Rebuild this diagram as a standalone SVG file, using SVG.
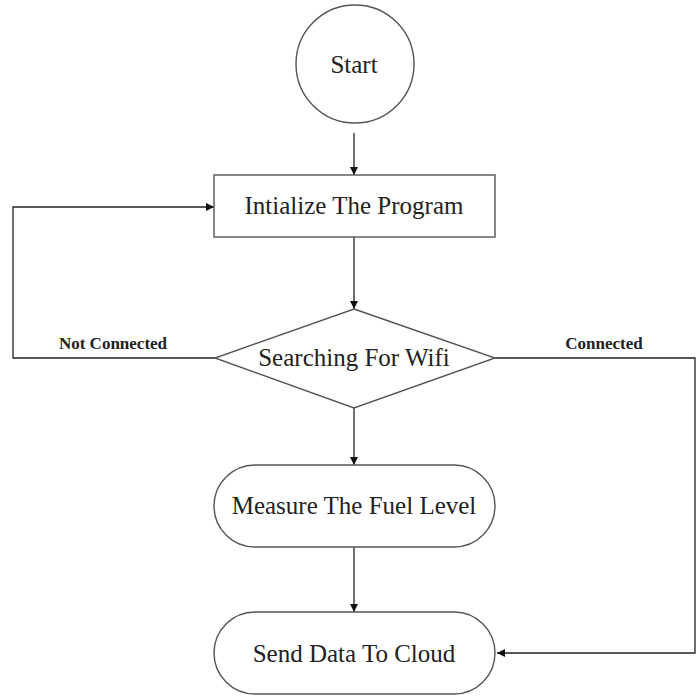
<svg xmlns="http://www.w3.org/2000/svg" width="699" height="696" viewBox="0 0 699 696">
<style>
.shape{fill:#fff;stroke:#555;stroke-width:1.4}
.lbl{font-family:"Liberation Serif","Times New Roman",serif;font-size:25px;fill:#222;text-anchor:middle}
.edge{font-family:"Liberation Serif","Times New Roman",serif;font-size:17px;font-weight:bold;fill:#222;text-anchor:middle}
.conn{fill:none;stroke:#222;stroke-width:1.3}
</style>
<defs>
<marker id="arr" viewBox="0 0 10 10" refX="10" refY="5" markerWidth="8" markerHeight="8" markerUnits="userSpaceOnUse" orient="auto">
<path d="M0,0 L10,5 L0,10 z" fill="#111"/>
</marker>
</defs>
<rect width="699" height="696" fill="#fff"/>
<g id="connectors">
<line class="conn" x1="354" y1="133" x2="354" y2="175" marker-end="url(#arr)"/>
<line class="conn" x1="354" y1="237" x2="354" y2="309" marker-end="url(#arr)"/>
<line class="conn" x1="354" y1="408" x2="354" y2="465" marker-end="url(#arr)"/>
<line class="conn" x1="354" y1="547" x2="354" y2="612" marker-end="url(#arr)"/>
<polyline class="conn" points="215,358 13,358 13,207 214,207" marker-end="url(#arr)"/>
<polyline class="conn" points="495,358 695,358 695,653 497,653" marker-end="url(#arr)"/>
<text class="edge" x="113" y="349">Not Connected</text>
<text class="edge" x="604" y="349">Connected</text>
</g>
<g id="start">
<circle class="shape" cx="355" cy="64" r="59"/>
<text class="lbl" x="354" y="73">Start</text>
</g>
<g id="init">
<rect class="shape" x="214" y="175" width="281" height="62"/>
<text class="lbl" x="354" y="214">Intialize The Program</text>
</g>
<g id="search">
<polygon class="shape" points="354,309 495,358 354,408 215,358"/>
<text class="lbl" x="354" y="366">Searching For Wifi</text>
</g>
<g id="measure">
<rect class="shape" x="214" y="465" width="281" height="82" rx="41" ry="41"/>
<text class="lbl" x="354" y="514">Measure The Fuel Level</text>
</g>
<g id="send">
<rect class="shape" x="214" y="612" width="281" height="82" rx="41" ry="41"/>
<text class="lbl" x="354" y="662">Send Data To Cloud</text>
</g>
</svg>
